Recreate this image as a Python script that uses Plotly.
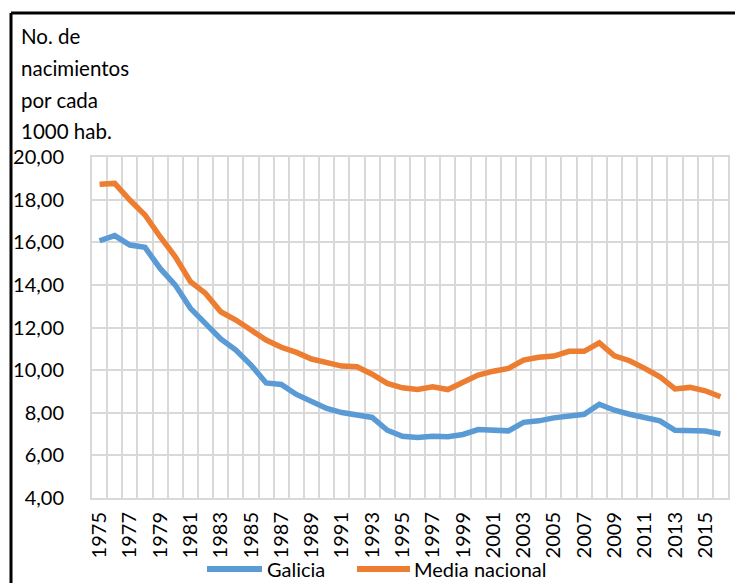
import plotly.graph_objects as go

years = list(range(1975, 2017))
galicia = [16.07, 16.31, 15.87, 15.76, 14.77, 13.99, 12.90, 12.19, 11.46, 10.94,
           10.24, 9.40, 9.33, 8.86, 8.51, 8.20, 8.01, 7.89, 7.78, 7.18,
           6.90, 6.84, 6.90, 6.87, 6.98, 7.21, 7.21, 7.15, 7.55, 7.62,
           7.76, 7.85, 7.93, 8.40, 8.12, 7.93, 7.76, 7.62, 7.18, 7.18,
           7.14, 7.00]
media = [18.72, 18.76, 17.98, 17.28, 16.26, 15.32, 14.15, 13.60, 12.74, 12.35,
         11.88, 11.41, 11.07, 10.83, 10.52, 10.34, 10.19, 10.16, 9.81, 9.38,
         9.17, 9.09, 9.22, 9.09, 9.40, 9.77, 9.95, 10.08, 10.47, 10.60,
         10.66, 10.88, 10.88, 11.28, 10.67, 10.44, 10.08, 9.69, 9.12, 9.19,
         9.03, 8.75]
tick_years = list(range(1975, 2016, 2))
title_lines = ["No. de", "nacimientos", "por cada", "1000 hab."]
series_names = ["Galicia", "Media nacional"]
series_colors = ["#5B9BD5", "#ED7D31"]

W, H = 743, 583
OFF = 8  # page body margin offset
# desired plot area in page pixels: x 92..728, y 157..498
L = 92 - OFF
T = 157 - OFF
R = W - (728 - OFF)
B = H - (498 - OFF)
pw, ph = W - L - R, H - T - B

def px_x(p):
    return (p - OFF - L) / pw

def px_y(p):
    return (H - B - (p - OFF)) / ph

FONT = "Lato"

fig = go.Figure()
for name, vals, col in zip(series_names, [galicia, media], series_colors):
    fig.add_trace(go.Scatter(x=years, y=vals, mode="lines", name=name,
                             line=dict(color=col, width=5.5), showlegend=False))

fig.update_layout(
    width=W, height=H,
    margin=dict(l=L, r=R, t=T, b=B, pad=0, autoexpand=False),
    paper_bgcolor="white", plot_bgcolor="white",
    separators=", ",
    font=dict(family=FONT, size=19, color="black"),
    showlegend=False,
)

fig.update_xaxes(
    range=[1974.5, 2016.5],
    tickmode="array", tickvals=tick_years, ticktext=[str(y) for y in tick_years],
    tickangle=-90, showgrid=False, ticks="", zeroline=False,
    tickfont=dict(family=FONT, size=20, color="black"),
    showline=True, linecolor="#d9d9d9", linewidth=2, mirror=True,
    minor=dict(tickmode="array", tickvals=[y - 0.5 for y in range(1975, 2018)],
               showgrid=True, gridcolor="#d9d9d9", gridwidth=2, ticks=""),
    ticklabelstandoff=4,
)
fig.update_yaxes(
    range=[4, 20], dtick=2, tick0=4, tickformat=".2f",
    showgrid=True, gridcolor="#d9d9d9", gridwidth=2, zeroline=False,
    showline=True, linecolor="#d9d9d9", linewidth=2, mirror=True,
    tickfont=dict(family=FONT, size=20, color="black"),
    ticks="", ticklabelstandoff=22,
)

centers = [36, 68, 100, 131]
for txt, c in zip(title_lines, centers):
    fig.add_annotation(text=txt, xref="paper", yref="paper",
                       x=px_x(19), y=px_y(c), xanchor="left", yanchor="middle",
                       showarrow=False,
                       font=dict(family=FONT, size=20.5, color="black"))

# manual legend
leg_y = 569
leg_items = [(207, 262, 265), (357, 410, 412)]
for (x0, x1, tx), name, col in zip(leg_items, series_names, series_colors):
    fig.add_shape(type="line", xref="paper", yref="paper",
                  x0=px_x(x0), x1=px_x(x1), y0=px_y(leg_y), y1=px_y(leg_y),
                  line=dict(color=col, width=6))
    fig.add_annotation(text=name, xref="paper", yref="paper",
                       x=px_x(tx), y=px_y(leg_y), xanchor="left", yanchor="middle",
                       showarrow=False,
                       font=dict(family=FONT, size=20, color="black"))

# outer chart border (top and left visible)
bx, by = px_x(11), px_y(13)
fig.add_shape(type="line", xref="paper", yref="paper",
              x0=bx, y0=by, x1=px_x(770), y1=by,
              line=dict(color="black", width=3))
fig.add_shape(type="line", xref="paper", yref="paper",
              x0=bx, y0=by, x1=bx, y1=px_y(620),
              line=dict(color="black", width=3))

fig.write_html("out.html")
